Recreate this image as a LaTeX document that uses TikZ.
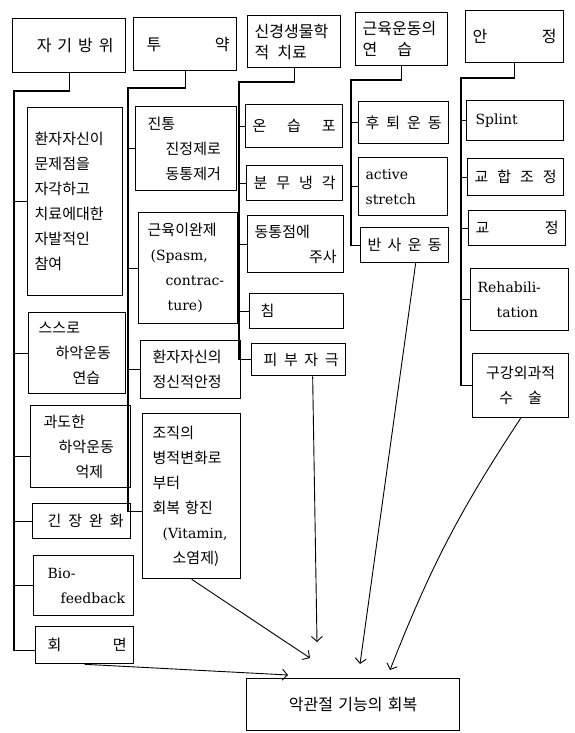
\documentclass[tikz,border=0pt]{standalone}
\usepackage{fontspec}
\newfontfamily\kfont{Noto Sans CJK KR}
\newfontfamily\lfont{DejaVu Serif}
\usetikzlibrary{arrows.meta}
\newcommand\rmtxt[1]{\mbox{\lfont\fontsize{14}{25}\selectfont #1}}

\begin{document}
\begin{tikzpicture}[x=1pt, y=-1pt,
          hdr/.style={draw, line width=1.4pt, anchor=north west, inner xsep=7pt,
                      inner ysep=0pt, align=left, font=\kfont\fontsize{16}{21}\selectfont},
          kbox/.style={draw, line width=1.3pt, anchor=north west, inner xsep=7pt,
                       inner ysep=0pt, align=left, font=\kfont\fontsize{15}{25}\selectfont},
          wd/.code={\pgfmathsetlengthmacro\tw{#1-14pt}\tikzset{minimum width=#1, text width=\tw}},
          bus/.style={line width=1.1pt},
          arr/.style={-{Straight Barb[length=5pt, width=11pt]}, line width=0.9pt}
        ]
        \useasboundingbox (0,0) rectangle (575,733);

        \node[hdr, wd=113, minimum height=54, align=center] (h1) at (12,18)
              {\hspace*{12pt}자\hspace{6pt}기\hspace{6pt}방\hspace{6pt}위};
        \node[hdr, wd=103, minimum height=53] (h2) at (133,17) {\hspace*{6pt}투\hfill 약\hspace*{3pt}};
        \node[hdr, wd=93, minimum height=52, inner xsep=3pt] (h3) at (247,15)
              {신경생물학\\적\enspace 치료};
        \node[hdr, wd=92, minimum height=53] (h4) at (355,12) {근육운동의\\연\hspace{20pt}습};
        \node[hdr, wd=98, minimum height=52] (h5) at (465,10) {안\hfill 정};

        \node[kbox, wd=95, minimum height=188] (c1a) at (27,107)
              {환자자신이\\문제점을\\자각하고\\치료에대한\\자발적인\\참여};
        \node[kbox, wd=97, minimum height=81] (c1b) at (28,312)
              {\hspace*{3pt}스스로\\\hspace*{20pt}하악운동\\\hspace*{37pt}연습};
        \node[kbox, wd=100, minimum height=82] (c1c) at (30,405)
              {\hspace*{6pt}과도한\\\hspace*{21pt}하악운동\\\hspace*{38pt}억제};
        \node[kbox, wd=98, minimum height=35] (c1d) at (32,503)
              {\hspace*{8pt}긴\hfill 장\hfill 완\hfill 화\hspace*{-2pt}};
        \node[kbox, wd=100, minimum height=60] (c1e) at (33,555)
              {\hspace*{7pt}\rmtxt{Bio-}\\\hspace*{20pt}\rmtxt{feedback}};
        \node[kbox, wd=98, minimum height=37] (c1f) at (35,626)
              {\hspace*{5pt}회\hfill 면};

        \node[kbox, wd=101, minimum height=84] (c2a) at (135,106)
              {\hspace*{5pt}진통\\\hspace*{23pt}진정제로\\\hspace*{23pt}동통제거};
        \node[kbox, wd=99, minimum height=111] (c2b) at (138,212)
              {\hspace*{2pt}근육이완제\\\hspace*{5pt}\rmtxt{(Spasm,}\\\hspace*{20pt}\rmtxt{contrac-}\\
               \hspace*{22pt}\rmtxt{ture)}};
        \node[kbox, wd=100, minimum height=58] (c2c) at (140,340)
              {\hspace*{5pt}환자자신의\\\hspace*{5pt}정신적안정};
        \node[kbox, wd=98, minimum height=165] (c2d) at (142,413)
              {\hspace*{3pt}조직의\\\hspace*{3pt}병적변화로\\\hspace*{3pt}부터\\\hspace*{3pt}회복 항진\\
               \hspace*{13pt}\rmtxt{(Vitamin,}\\\hspace*{23pt}소염제)};

        \node[kbox, wd=97, minimum height=43] (c3a) at (245,104) {온\hfill 습\hfill 포\hspace*{2pt}};
        \node[kbox, wd=96, minimum height=35] (c3b) at (246,165) {분\hfill 무\hfill 냉\hfill 각\hspace*{4pt}};
        \node[kbox, wd=96, minimum height=57] (c3c) at (247,215) {동통점에\\\hfill 주사\hspace*{3pt}};
        \node[kbox, wd=94, minimum height=35] (c3d) at (249,293) {\hspace*{4pt}침};
        \node[kbox, wd=94, minimum height=32] (c3e) at (251,343)
              {\hspace*{5pt}피\hfill 부\hfill 자\hfill 극\hspace*{-2pt}};

        \node[kbox, wd=90, minimum height=42] (c4a) at (358,101) {후\hfill 퇴\hfill 운\hfill 동};
        \node[kbox, wd=89, minimum height=58] (c4b) at (358,157) {\rmtxt{active}\\\rmtxt{stretch}};
        \node[kbox, wd=88, minimum height=35] (c4c) at (360,227) {반\hfill 사\hfill 운\hfill 동};

        \node[kbox, wd=97, minimum height=40] (c5a) at (466,100) {\hspace*{2pt}\rmtxt{Splint}};
        \node[kbox, wd=96, minimum height=37] (c5b) at (467,158) {교\hfill 합\hfill 조\hfill 정};
        \node[kbox, wd=97, minimum height=35] (c5c) at (468,210) {교\hfill 정};
        \node[kbox, wd=98, minimum height=62] (c5d) at (470,268)
              {\rmtxt{Rehabili-}\\\hspace*{19pt}\rmtxt{tation}};
        \node[kbox, wd=96, minimum height=64, align=center] (c5e) at (472,353)
              {구강외과적\\수\hspace{15pt}술};

        \node[kbox, wd=213, minimum height=52, align=center,
              font=\kfont\fontsize{16}{21}\selectfont] (goal) at (246,678) {악관절 기능의 회복};

        \coordinate (b1) at (14,91);
        \coordinate (b2) at (128,88);
        \coordinate (b3) at (239,82);
        \coordinate (b4) at (351,80);
        \coordinate (b5) at (461,78);
        \coordinate (c1cw) at ([yshift=-10pt]c1c.west);

        \draw[bus] (h1.south) |- (b1) |- ([yshift=-5pt]c1f.west);
        \draw[bus] (h2.south) |- (b2) |- ([yshift=-15pt]c2d.west);
        \draw[bus] (h3.south) |- (b3) |- (c3e.west);
        \draw[bus] (h4.south) |- (b4) |- (c4c.west);
        \draw[bus] (h5.south) |- (b5) |- (c5e.west);
        \foreach \n in {c1a, c1b, c1d, c1e}
          \draw[bus] (b1 |- \n.west) -- (\n.west);
        \draw[bus] (b1 |- c1cw) -- (c1cw);
        \foreach \n in {c2a, c2b, c2c}
          \draw[bus] (b2 |- \n.west) -- (\n.west);
        \foreach \n in {c3a, c3b, c3c, c3d}
          \draw[bus] (b3 |- \n.west) -- (\n.west);
        \foreach \n in {c4a, c4b}
          \draw[bus] (b4 |- \n.west) -- (\n.west);
        \foreach \n in {c5a, c5b, c5c, c5d}
          \draw[bus] (b5 |- \n.west) -- (\n.west);

        \coordinate (t1) at (288,675);
        \coordinate (t2) at (310,658);
        \coordinate (t3) at (317,642);
        \coordinate (t4) at (360,664);
        \coordinate (t5) at (390,670);

        \draw[arr] (c1f.south) -- (t1);
        \draw[arr] (c2d.south) -- (t2);
        \draw[arr] ([xshift=14pt]c3e.south) -- (t3);
        \draw[arr] ([xshift=11pt]c4c.south) -- (t4);
        \draw[arr] (c5e.south) to[bend right=6] (t5);
      \end{tikzpicture}
\end{document}
